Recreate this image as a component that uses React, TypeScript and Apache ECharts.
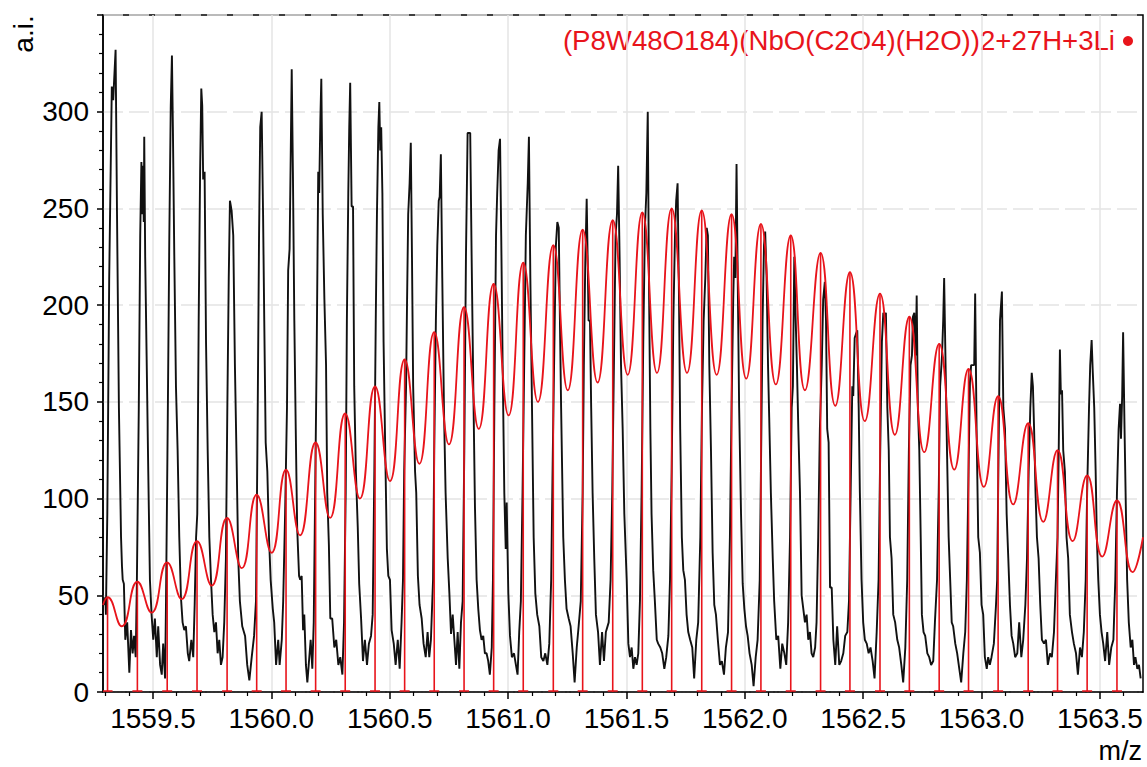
import React, { useEffect, useRef } from 'react';
import * as echarts from 'echarts';

const FONT = '"Liberation Sans", Arial, sans-serif';
const RED = '#e8141b';

const xMin = 1559.2888;
const xMax = 1563.682;
const yMax = 350;

const xMajorTicks = [1559.5, 1560.0, 1560.5, 1561.0, 1561.5, 1562.0, 1562.5, 1563.0, 1563.5];
const xMinorTicks = [
  1559.3, 1559.4, 1559.6, 1559.7, 1559.8, 1559.9, 1560.1, 1560.2, 1560.3, 1560.4,
  1560.6, 1560.7, 1560.8, 1560.9, 1561.1, 1561.2, 1561.3, 1561.4, 1561.6, 1561.7,
  1561.8, 1561.9, 1562.1, 1562.2, 1562.3, 1562.4, 1562.6, 1562.7, 1562.8, 1562.9,
  1563.1, 1563.2, 1563.3, 1563.4, 1563.6,
];

const legendLabel = '(P8W48O184)(NbO(C2O4)(H2O))2+27H+3Li';

// simulated isotope sticks (position, height)
const stickMz = [
  1559.308, 1559.434, 1559.56, 1559.686, 1559.813, 1559.938, 1560.062, 1560.187, 1560.312,
  1560.438, 1560.563, 1560.688, 1560.814, 1560.939, 1561.064, 1561.191, 1561.315, 1561.442,
  1561.567, 1561.691, 1561.818, 1561.944, 1562.068, 1562.194, 1562.32, 1562.444, 1562.571,
  1562.695, 1562.821, 1562.945, 1563.07, 1563.197, 1563.321, 1563.446, 1563.572,
];
const stickHeight = [
  49, 57, 67, 78, 90, 102, 115, 129, 144, 158, 172, 186, 199, 211, 222, 231, 239, 244, 248, 250,
  249, 247, 242, 236, 227, 217, 206, 194, 180, 167, 153, 139, 125, 112, 99,
];

// simulated envelope minima between sticks
const troughMz = [
  1559.368, 1559.494, 1559.621, 1559.748, 1559.875, 1560.001, 1560.121, 1560.248, 1560.374,
  1560.501, 1560.625, 1560.75, 1560.876, 1561.002, 1561.126, 1561.252, 1561.378, 1561.505,
  1561.629, 1561.756, 1561.881, 1562.006, 1562.131, 1562.254, 1562.382, 1562.507, 1562.634,
  1562.758, 1562.885, 1563.01, 1563.134, 1563.261, 1563.385, 1563.51, 1563.638,
];
const troughValue = [
  34, 41, 48, 55, 64, 72, 81, 90, 100, 109, 118, 128, 136, 143, 150, 156, 160, 164, 165, 165,
  164, 162, 159, 156, 148, 140, 133, 124, 115, 106, 97, 88, 78, 70, 62,
];
const envelopeStart = [1559.289, 45];
const envelopeEnd = [1563.682, 80];

// measured spectrum [m/z, intensity]
const measuredTrace = [
  [1559.291,45],[1559.299,49],[1559.301,40],[1559.307,92],[1559.315,214],[1559.326,313],[1559.332,306],[1559.335,314],[1559.342,332],[1559.348,247],[1559.356,147],[1559.365,80],[1559.369,65],[1559.372,58],[1559.377,56],[1559.383,27],[1559.391,36],[1559.4,10],[1559.407,32],[1559.414,20],[1559.42,29],[1559.427,18],
  [1559.432,58],[1559.44,147],[1559.446,236],[1559.451,274],[1559.455,247],[1559.458,272],[1559.461,243],[1559.463,287],[1559.467,225],[1559.473,174],[1559.48,114],[1559.487,58],[1559.494,40],[1559.501,27],[1559.508,38],[1559.516,18],[1559.522,34],[1559.53,14],[1559.537,9],[1559.543,25],[1559.551,7],
  [1559.555,47],[1559.562,136],[1559.569,236],[1559.575,303],[1559.58,329],[1559.584,292],[1559.59,225],[1559.597,158],[1559.604,125],[1559.611,80],[1559.618,49],[1559.625,36],[1559.632,32],[1559.639,34],[1559.647,20],[1559.653,16],[1559.662,27],[1559.67,18],
  [1559.676,45],[1559.682,80],[1559.687,92],[1559.693,192],[1559.699,269],[1559.704,312],[1559.708,303],[1559.712,265],[1559.718,269],[1559.724,181],[1559.731,125],[1559.738,80],[1559.745,58],[1559.752,40],[1559.759,31],[1559.766,36],[1559.773,20],[1559.78,27],[1559.787,14],[1559.794,18],
  [1559.801,36],[1559.808,69],[1559.814,147],[1559.82,214],[1559.825,254],[1559.832,249],[1559.839,236],[1559.846,169],[1559.854,114],[1559.86,69],[1559.867,47],[1559.877,34],[1559.889,29],[1559.898,14],[1559.907,6],[1559.917,18],[1559.927,29],
  [1559.935,47],[1559.941,125],[1559.948,236],[1559.953,292],[1559.959,300],[1559.965,247],[1559.97,192],[1559.976,129],[1559.983,114],[1559.99,80],[1559.997,58],[1560.006,43],[1560.012,36],[1560.02,14],[1560.029,27],[1560.035,14],[1560.044,27],
  [1560.05,47],[1560.058,92],[1560.066,147],[1560.071,218],[1560.077,229],[1560.082,280],[1560.086,322],[1560.091,269],[1560.097,192],[1560.103,136],[1560.109,85],[1560.117,60],[1560.122,58],[1560.128,60],[1560.134,32],[1560.139,40],[1560.146,14],[1560.152,5],[1560.159,16],[1560.166,27],[1560.173,12],
  [1560.179,36],[1560.184,92],[1560.191,169],[1560.198,269],[1560.202,258],[1560.207,296],[1560.211,317],[1560.217,247],[1560.224,203],[1560.231,169],[1560.236,103],[1560.243,76],[1560.249,38],[1560.257,38],[1560.266,23],[1560.274,27],[1560.283,14],[1560.291,18],[1560.3,9],
  [1560.307,36],[1560.314,103],[1560.319,192],[1560.325,258],[1560.329,292],[1560.333,315],[1560.339,251],[1560.345,251],[1560.35,158],[1560.357,114],[1560.365,85],[1560.371,56],[1560.379,38],[1560.387,16],[1560.395,27],[1560.404,14],[1560.412,25],[1560.421,29],
  [1560.428,40],[1560.435,114],[1560.441,192],[1560.446,247],[1560.452,292],[1560.456,305],[1560.46,280],[1560.464,292],[1560.469,258],[1560.474,181],[1560.481,125],[1560.488,74],[1560.494,60],[1560.501,58],[1560.508,32],[1560.517,25],[1560.525,14],[1560.534,27],[1560.542,12],[1560.55,36],
  [1560.556,58],[1560.561,114],[1560.569,158],[1560.573,200],[1560.578,247],[1560.584,263],[1560.589,284],[1560.594,225],[1560.599,158],[1560.607,114],[1560.612,103],[1560.619,60],[1560.626,45],[1560.635,38],[1560.643,25],[1560.652,18],[1560.66,31],[1560.667,18],[1560.674,27],
  [1560.683,58],[1560.688,125],[1560.695,192],[1560.701,231],[1560.707,254],[1560.711,256],[1560.716,278],[1560.722,214],[1560.729,147],[1560.736,103],[1560.745,69],[1560.752,51],[1560.759,30],[1560.766,40],[1560.773,27],[1560.78,14],[1560.787,31],[1560.794,12],[1560.801,36],
  [1560.808,47],[1560.815,125],[1560.822,225],[1560.829,289],[1560.835,289],[1560.84,289],[1560.846,225],[1560.853,158],[1560.86,96],[1560.867,58],[1560.874,43],[1560.881,32],[1560.888,27],[1560.895,29],[1560.902,20],[1560.909,20],[1560.916,16],[1560.923,9],[1560.931,23],
  [1560.936,58],[1560.942,147],[1560.949,236],[1560.954,258],[1560.96,280],[1560.966,286],[1560.971,236],[1560.977,169],[1560.984,103],[1560.99,74],[1560.994,98],[1561.001,51],[1561.008,29],[1561.016,18],[1561.025,20],[1561.033,14],[1561.04,9],[1561.047,31],
  [1561.054,47],[1561.061,103],[1561.068,169],[1561.075,236],[1561.083,263],[1561.088,287],[1561.094,214],[1561.101,147],[1561.108,80],[1561.115,51],[1561.123,40],[1561.132,34],[1561.14,18],[1561.149,16],[1561.157,20],[1561.166,14],[1561.174,25],
  [1561.182,58],[1561.189,125],[1561.197,192],[1561.202,231],[1561.208,243],[1561.214,240],[1561.219,192],[1561.224,147],[1561.233,80],[1561.24,58],[1561.247,43],[1561.256,38],[1561.264,34],[1561.273,20],[1561.281,5],[1561.29,23],[1561.298,34],
  [1561.307,47],[1561.315,103],[1561.32,169],[1561.326,222],[1561.332,255],[1561.336,225],[1561.34,192],[1561.346,192],[1561.351,147],[1561.357,103],[1561.364,69],[1561.371,40],[1561.38,31],[1561.388,14],[1561.397,31],[1561.405,16],[1561.413,31],
  [1561.425,36],[1561.433,58],[1561.44,103],[1561.447,169],[1561.454,236],[1561.46,247],[1561.465,272],[1561.471,225],[1561.477,169],[1561.484,136],[1561.491,92],[1561.501,58],[1561.508,25],[1561.515,18],[1561.522,23],[1561.529,12],[1561.536,18],[1561.543,14],[1561.55,20],
  [1561.557,47],[1561.564,103],[1561.571,181],[1561.578,240],[1561.584,258],[1561.59,300],[1561.595,214],[1561.601,136],[1561.606,92],[1561.613,63],[1561.62,47],[1561.628,27],[1561.634,25],[1561.643,23],[1561.651,20],[1561.66,12],[1561.668,18],[1561.677,29],
  [1561.684,58],[1561.691,114],[1561.698,192],[1561.705,236],[1561.71,254],[1561.716,263],[1561.722,203],[1561.727,136],[1561.734,80],[1561.74,63],[1561.747,58],[1561.754,40],[1561.761,31],[1561.769,27],[1561.778,23],[1561.786,7],[1561.795,27],[1561.803,36],
  [1561.812,80],[1561.819,147],[1561.826,192],[1561.833,214],[1561.839,240],[1561.844,236],[1561.85,169],[1561.857,125],[1561.864,72],[1561.871,45],[1561.878,40],[1561.886,27],[1561.895,14],[1561.903,16],[1561.912,9],[1561.92,23],[1561.929,31],
  [1561.937,80],[1561.944,147],[1561.951,203],[1561.955,225],[1561.96,214],[1561.965,273],[1561.971,203],[1561.976,147],[1561.984,92],[1561.991,56],[1561.998,43],[1562.005,34],[1562.012,29],[1562.02,20],[1562.029,14],[1562.037,3],[1562.046,18],[1562.054,27],
  [1562.063,58],[1562.069,125],[1562.075,192],[1562.081,231],[1562.086,238],[1562.092,214],[1562.098,169],[1562.103,142],[1562.11,103],[1562.118,69],[1562.124,47],[1562.133,27],[1562.141,29],[1562.15,12],[1562.158,25],[1562.167,20],[1562.175,14],[1562.183,36],
  [1562.191,80],[1562.198,147],[1562.203,158],[1562.209,225],[1562.215,192],[1562.22,169],[1562.226,136],[1562.233,103],[1562.24,50],[1562.247,43],[1562.254,36],[1562.261,40],[1562.268,27],[1562.275,31],[1562.282,20],[1562.289,18],[1562.297,23],[1562.303,36],
  [1562.31,80],[1562.317,136],[1562.325,169],[1562.331,203],[1562.338,212],[1562.343,192],[1562.348,136],[1562.354,129],[1562.36,54],[1562.367,54],[1562.374,27],[1562.382,14],[1562.39,34],[1562.399,14],[1562.407,16],[1562.416,20],[1562.424,29],[1562.433,31],
  [1562.44,47],[1562.447,103],[1562.454,158],[1562.458,153],[1562.464,183],[1562.469,185],[1562.475,187],[1562.481,147],[1562.486,103],[1562.493,58],[1562.5,36],[1562.507,27],[1562.515,25],[1562.523,20],[1562.531,23],[1562.54,16],[1562.548,7],[1562.557,31],
  [1562.565,58],[1562.572,125],[1562.579,181],[1562.585,196],[1562.591,194],[1562.596,196],[1562.602,147],[1562.608,125],[1562.613,80],[1562.62,69],[1562.627,40],[1562.635,36],[1562.644,27],[1562.652,23],[1562.661,14],[1562.669,5],[1562.678,23],
  [1562.686,58],[1562.693,125],[1562.7,169],[1562.706,174],[1562.71,194],[1562.716,196],[1562.722,174],[1562.726,205],[1562.731,147],[1562.737,125],[1562.743,80],[1562.748,40],[1562.755,31],[1562.762,29],[1562.771,20],[1562.779,18],[1562.787,14],[1562.796,16],[1562.803,36],
  [1562.812,58],[1562.819,103],[1562.825,158],[1562.833,174],[1562.838,192],[1562.842,214],[1562.848,169],[1562.854,125],[1562.861,80],[1562.866,63],[1562.874,36],[1562.88,34],[1562.889,25],[1562.897,20],[1562.906,12],[1562.914,5],[1562.923,20],[1562.931,31],
  [1562.938,58],[1562.945,114],[1562.951,160],[1562.956,169],[1562.962,169],[1562.969,169],[1562.973,206],[1562.979,136],[1562.986,80],[1562.993,72],[1563.0,45],[1563.007,40],[1563.014,18],[1563.022,12],[1563.028,18],[1563.035,14],[1563.042,18],[1563.052,25],[1563.061,45],
  [1563.066,58],[1563.072,125],[1563.078,192],[1563.086,207],[1563.092,147],[1563.099,136],[1563.106,92],[1563.113,69],[1563.12,45],[1563.127,29],[1563.134,25],[1563.142,18],[1563.151,20],[1563.159,36],[1563.168,18],[1563.176,27],[1563.185,45],
  [1563.192,69],[1563.199,114],[1563.206,147],[1563.212,165],[1563.217,158],[1563.222,136],[1563.228,103],[1563.234,80],[1563.241,69],[1563.248,45],[1563.255,27],[1563.264,25],[1563.272,27],[1563.28,14],[1563.289,20],[1563.297,18],[1563.306,31],
  [1563.314,58],[1563.321,80],[1563.326,125],[1563.331,177],[1563.335,154],[1563.34,156],[1563.345,125],[1563.352,114],[1563.359,80],[1563.366,69],[1563.373,40],[1563.382,31],[1563.39,25],[1563.399,20],[1563.407,9],[1563.416,23],[1563.424,18],[1563.432,31],
  [1563.44,58],[1563.446,103],[1563.454,147],[1563.459,169],[1563.465,182],[1563.47,165],[1563.476,147],[1563.482,114],[1563.487,80],[1563.493,58],[1563.5,40],[1563.507,31],[1563.514,25],[1563.522,16],[1563.531,31],[1563.539,14],[1563.548,23],[1563.557,27],
  [1563.565,58],[1563.572,103],[1563.579,136],[1563.585,149],[1563.589,131],[1563.594,153],[1563.598,186],[1563.604,136],[1563.61,92],[1563.615,58],[1563.622,36],[1563.63,23],[1563.637,27],[1563.644,14],[1563.65,18],[1563.658,12],[1563.665,14],[1563.672,7],
];

export default function App() {
  const ref = useRef<HTMLDivElement>(null);

  useEffect(() => {
    if (!ref.current) return;
    const chart = echarts.init(ref.current, null, { renderer: 'svg' });

    const envelope: number[][] = [envelopeStart];
    stickMz.forEach((m, i) => {
      envelope.push([m, stickHeight[i]]);
      envelope.push([troughMz[i], troughValue[i]]);
    });
    envelope.push(envelopeEnd);

    const sticks = stickMz.map((m, i) => [m, stickHeight[i]]);

    chart.setOption({
      animation: false,
      backgroundColor: '#fff',
      grid: {
        left: 103,
        right: 4,
        top: 15,
        bottom: 75,
        show: true,
        borderColor: '#000',
        borderWidth: 1.5,
        backgroundColor: 'transparent',
      },
      xAxis: [
        {
          type: 'value',
          min: xMin,
          max: xMax,
          splitNumber: 9,
          axisLine: { show: true, onZero: false, lineStyle: { color: '#000', width: 1.5 } },
          axisTick: {
            show: true,
            customValues: xMajorTicks,
            length: 7,
            lineStyle: { color: '#000', width: 1.5 },
          },
          axisLabel: {
            customValues: xMajorTicks,
            formatter: (v: number) => v.toFixed(1),
            fontSize: 28,
            fontFamily: FONT,
            color: '#000',
            margin: 12,
          },
          splitLine: { show: true, lineStyle: { color: '#e4e4e4', width: 1.5 } },
        },
        {
          type: 'value',
          min: xMin,
          max: xMax,
          position: 'bottom',
          axisLine: { show: true, onZero: false, lineStyle: { color: '#333', width: 2, type: 'dotted' } },
          axisTick: {
            show: true,
            customValues: xMinorTicks,
            length: 4,
            lineStyle: { color: '#000', width: 1.2 },
          },
          axisLabel: { show: false },
          splitLine: { show: false },
        },
      ],
      yAxis: {
        type: 'value',
        min: 0,
        max: yMax,
        interval: 50,
        axisLine: { show: true, lineStyle: { color: '#000', width: 1.5 } },
        axisTick: { show: true, length: 6, lineStyle: { color: '#000', width: 1.5 } },
        minorTick: { show: true, splitNumber: 5, length: 4, lineStyle: { color: '#000', width: 1.2 } },
        axisLabel: {
          fontSize: 28,
          fontFamily: FONT,
          color: '#000',
          margin: 14,
          showMaxLabel: false,
        },
        splitLine: { show: true, lineStyle: { color: '#e4e4e4', width: 1.5, type: [20, 6] } },
      },
      graphic: [
        {
          type: 'text',
          x: 23,
          y: 34,
          rotation: Math.PI / 2,
          style: {
            text: 'a.i.',
            fontSize: 28,
            fontFamily: FONT,
            fill: '#000',
            align: 'center',
            verticalAlign: 'middle',
          },
        },
        {
          type: 'text',
          x: 1142,
          y: 751,
          style: {
            text: 'm/z',
            fontSize: 27,
            fontFamily: FONT,
            fill: '#000',
            align: 'right',
            verticalAlign: 'middle',
          },
        },
        {
          type: 'text',
          x: 1115,
          y: 40,
          style: {
            text: legendLabel,
            fontSize: 27.6,
            fontFamily: FONT,
            fill: RED,
            align: 'right',
            verticalAlign: 'middle',
          },
        },
        {
          type: 'circle',
          shape: { cx: 1128, cy: 41, r: 5 },
          style: { fill: RED },
        },
      ],
      series: [
        {
          type: 'line',
          name: 'measured',
          data: measuredTrace,
          showSymbol: false,
          symbol: 'none',
          lineStyle: { color: '#111', width: 1.9 },
          z: 2,
        },
        {
          type: 'custom',
          name: 'sticks',
          data: sticks,
          encode: { x: 0, y: 1 },
          clip: true,
          z: 3,
          renderItem: (params: any, api: any) => {
            const x = api.value(0);
            const h = api.value(1);
            const base = api.coord([x, 0]);
            const top = api.coord([x, h]);
            return {
              type: 'group',
              children: [
                {
                  type: 'line',
                  shape: { x1: base[0], y1: base[1], x2: top[0], y2: top[1] },
                  style: { stroke: RED, lineWidth: 1.6 },
                },
                {
                  type: 'line',
                  shape: { x1: base[0] - 5, y1: base[1] - 1, x2: base[0] + 5, y2: base[1] - 1 },
                  style: { stroke: RED, lineWidth: 1.5 },
                },
              ],
            };
          },
        },
        {
          type: 'line',
          name: 'simulated',
          data: envelope,
          smooth: 0.5,
          showSymbol: false,
          symbol: 'none',
          lineStyle: { color: RED, width: 1.8 },
          z: 4,
        },
      ],
    });

    return () => chart.dispose();
  }, []);

  return (
    <div
      ref={ref}
      style={{ position: 'fixed', left: 0, top: 0, width: 1147, height: 767, background: '#fff' }}
    />
  );
}
